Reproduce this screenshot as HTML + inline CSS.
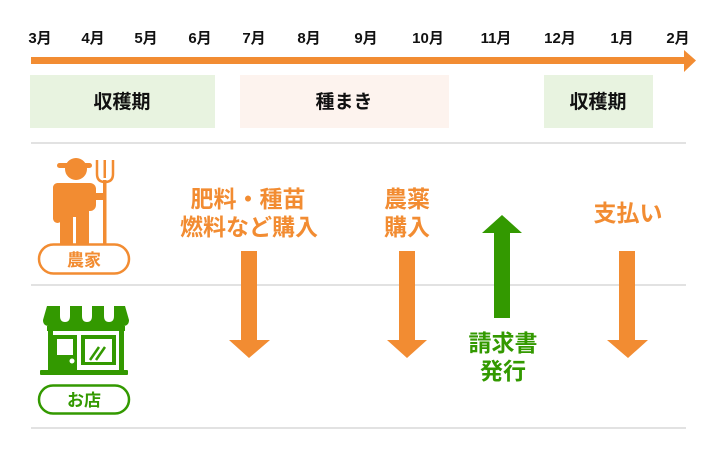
<!DOCTYPE html>
<html><head><meta charset="utf-8"><style>
html,body{margin:0;padding:0;background:#fff;width:720px;height:472px;overflow:hidden}
text{font-family:"Liberation Sans","Noto Sans CJK JP",sans-serif;font-weight:bold}
</style></head><body>
<svg width="720" height="472" viewBox="0 0 720 472" xmlns="http://www.w3.org/2000/svg">
<g font-size="15" fill="#111" text-anchor="middle">
<text x="40" y="43">3月</text><text x="93" y="43">4月</text><text x="146" y="43">5月</text><text x="200" y="43">6月</text>
<text x="254" y="43">7月</text><text x="309" y="43">8月</text><text x="366" y="43">9月</text><text x="428" y="43">10月</text>
<text x="496" y="43">11月</text><text x="560" y="43">12月</text><text x="622" y="43">1月</text><text x="678" y="43">2月</text>
</g>
<rect x="31" y="57" width="656" height="7" fill="#f28c32"/>
<polygon points="684,50 696,60.5 684,72" fill="#f28c32"/>
<rect x="30" y="75" width="185" height="53" fill="#e8f3e0"/>
<rect x="240" y="75" width="209" height="53" fill="#fdf3ee"/>
<rect x="544" y="75" width="109" height="53" fill="#e8f3e0"/>
<g font-size="19" fill="#111" text-anchor="middle">
<text x="122" y="108">収穫期</text><text x="344" y="108">種まき</text><text x="598" y="108">収穫期</text>
</g>
<g stroke="#d9d9d9" stroke-width="1.5"><line x1="31" y1="143" x2="686" y2="143"/><line x1="31" y1="285" x2="686" y2="285"/><line x1="31" y1="428" x2="686" y2="428"/></g>
<!-- farmer -->
<g fill="#f28c32">
<circle cx="76" cy="169" r="11"/><rect x="57" y="163" width="35" height="5" rx="2.5"/>
<rect x="53" y="183" width="43" height="28" rx="6"/>
<rect x="60" y="205" width="29" height="12"/>
<rect x="60" y="210" width="13" height="34"/><rect x="76" y="210" width="13" height="34"/>
<rect x="53" y="183" width="9" height="40" rx="4.5"/>
<rect x="103" y="180" width="3.5" height="64"/>
<path d="M97 160 v14 q0 8 8 8 q8 0 8 -8 v-14" fill="none" stroke="#f28c32" stroke-width="2.5"/>
<rect x="103.5" y="160" width="2.5" height="18"/>
<rect x="89" y="193" width="17" height="7" rx="3"/>
</g>
<rect x="39" y="244.5" width="90" height="29" rx="14.5" fill="#fff" stroke="#f28c32" stroke-width="2.5"/>
<text x="84" y="266" font-size="17" fill="#f28c32" text-anchor="middle">農家</text>
<!-- store -->
<g fill="#339900">
<path d="M47 306 h78 l4 14 q0 6 -6 6 h-74 q-6 0 -6 -6 z"/>
<rect x="47" y="326" width="78" height="5"/>
<rect x="48" y="325" width="5" height="47"/><rect x="119" y="325" width="5" height="47"/>
<rect x="40" y="370" width="88" height="5" rx="1"/>
<rect x="53" y="335" width="24" height="36"/>
<rect x="81" y="335" width="35" height="30"/>
</g>
<g fill="#fff">
<path d="M60 306 v10 q0 6 5 6 q5 0 5 -6 v-10z"/><path d="M82 306 v10 q0 6 5 6 q5 0 5 -6 v-10z"/><path d="M104 306 v10 q0 6 5 6 q5 0 5 -6 v-10z"/>
<rect x="57" y="339" width="16" height="16"/>
<rect x="85" y="339" width="27" height="23"/>
<circle cx="72" cy="361" r="2.5"/>
</g>
<g stroke="#339900" stroke-width="2.5"><line x1="90" y1="360" x2="99" y2="347"/><line x1="96" y1="360" x2="105" y2="347"/></g>
<rect x="39" y="385.5" width="90" height="28" rx="14" fill="#fff" stroke="#339900" stroke-width="2.5"/>
<text x="84" y="406" font-size="17" fill="#339900" text-anchor="middle">お店</text>
<!-- labels -->
<g font-size="23" fill="#f28c32" text-anchor="middle">
<text x="248" y="207">肥料・種苗</text><text x="249" y="235">燃料など購入</text>
<text x="407" y="207">農薬</text><text x="407" y="235">購入</text>
<text x="628" y="221">支払い</text>
</g>
<g font-size="23" fill="#339900" text-anchor="middle"><text x="503" y="351">請求書</text><text x="503" y="379">発行</text></g>
<!-- arrows -->
<g fill="#f28c32">
<polygon points="241,251 257,251 257,340 270,340 249,358 229,340 241,340"/>
<polygon points="399,251 415,251 415,340 427,340 407,358 387,340 399,340"/>
<polygon points="619,251 635,251 635,340 648,340 628,358 607,340 619,340"/>
</g>
<polygon points="502,215 522,233 510,233 510,318 494,318 494,233 482,233" fill="#339900"/>
</svg>
</body></html>
